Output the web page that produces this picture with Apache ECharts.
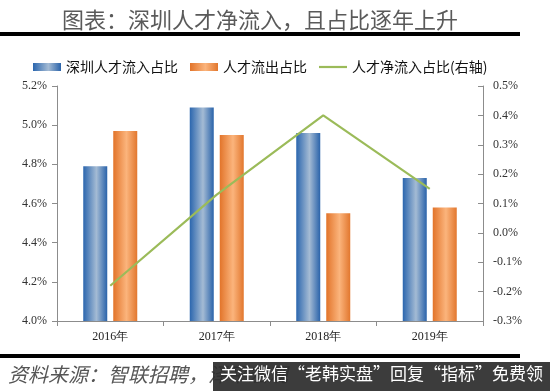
<!DOCTYPE html>
<html><head><meta charset="utf-8">
<script src="https://cdn.jsdelivr.net/npm/echarts@6/dist/echarts.min.js"></script>
<style>html,body{margin:0;padding:0;background:#fff}#c{width:550px;height:391px}</style>
</head><body><div id="c"></div>
<script>
const categories = ['2016年','2017年','2018年','2019年'];
const inflowShare = [4.79, 5.09, 4.96, 4.73];
const outflowShare = [4.97, 4.95, 4.55, 4.58];
const netInflowShare = [-0.18, 0.13, 0.40, 0.15];
const seriesNames = ['深圳人才流入占比','人才流出占比','人才净流入占比(右轴)'];
const titleText = '图表：深圳人才净流入，且占比逐年上升';
const sourceText = '资料来源：智联招聘，泽平宏观';
const overlayText = '关注微信“老韩实盘”回复“指标”免费领';

const blueGrad = new echarts.graphic.LinearGradient(0,0,1,0,[
  {offset:0,color:'#2b66ae'},{offset:0.55,color:'#a4bbd4'},{offset:1,color:'#2a63aa'}]);
const orangeGrad = new echarts.graphic.LinearGradient(0,0,1,0,[
  {offset:0,color:'#e2742a'},{offset:0.55,color:'#fbb47c'},{offset:1,color:'#e2772e'}]);

const chart = echarts.init(document.getElementById('c'), null, {renderer:'canvas'});
const serif = '"Liberation Serif","Times New Roman",serif';
const cjk = '"Noto Sans CJK SC","Noto Sans",sans-serif';
chart.setOption({
  animation:false,
  backgroundColor:'#fff',
  title:{text:titleText,left:57,top:4,
    textStyle:{fontFamily:cjk,fontSize:22,fontWeight:'normal',color:'#5a5a5a'}},
  legend:{left:28,top:55,itemWidth:28,itemHeight:8,itemGap:12,
    textStyle:{fontFamily:cjk,fontSize:14,color:'#111'},
    data:[{name:seriesNames[0],icon:'rect'},{name:seriesNames[1],icon:'rect'},
          {name:seriesNames[2],icon:'path://M0,0 L28,0 L28,2.2 L0,2.2 Z'}]},
  grid:{left:57,right:67,top:86,bottom:70},
  xAxis:{type:'category',data:categories,
    axisLine:{onZero:false,lineStyle:{color:'#8c8c8c'}},
    axisTick:{show:true,alignWithLabel:false,length:5,lineStyle:{color:'#8c8c8c'}},
    axisLabel:{fontFamily:serif,fontSize:12,color:'#222',margin:10}},
  yAxis:[
    {type:'value',min:4.0,max:5.2,interval:0.2,
     axisLine:{show:true,lineStyle:{color:'#8c8c8c'}},
     axisTick:{show:true,length:5,lineStyle:{color:'#8c8c8c'}},
     splitLine:{show:false},
     axisLabel:{fontFamily:serif,fontSize:12,color:'#333',margin:10,formatter:v=>v.toFixed(1)+'%'}},
    {type:'value',min:-0.3,max:0.5,interval:0.1,position:'right',
     axisLine:{show:true,lineStyle:{color:'#8c8c8c'}},
     axisTick:{show:true,inside:true,length:5,lineStyle:{color:'#8c8c8c'}},
     splitLine:{show:false},
     axisLabel:{fontFamily:serif,fontSize:12,color:'#333',margin:10,formatter:v=>(Math.round(v*10)/10).toFixed(1)+'%'}}
  ],
  series:[
    {name:seriesNames[0],type:'bar',data:inflowShare,barWidth:24,barGap:'25%',
     itemStyle:{color:blueGrad}},
    {name:seriesNames[1],type:'bar',data:outflowShare,barWidth:24,
     itemStyle:{color:orangeGrad}},
    {name:seriesNames[2],type:'line',yAxisIndex:1,data:netInflowShare,symbol:'none',
     lineStyle:{color:'#9bbb59',width:2.2},itemStyle:{color:'#9bbb59'}}
  ],
  graphic:[
    {type:'rect',shape:{x:0,y:32,width:520,height:4},style:{fill:'#000'}},
    {type:'rect',shape:{x:0,y:354,width:520,height:4},style:{fill:'#000'}},
    {type:'text',left:8,top:364,style:{text:sourceText,fontFamily:cjk,fontSize:20,fontStyle:'italic',fill:'#555'}},
    {type:'rect',shape:{x:213,y:362,width:337,height:29},style:{fill:'rgba(45,45,45,0.93)'}},
    {type:'text',left:220,top:365,style:{text:overlayText,fontFamily:cjk,fontSize:17,fill:'#fff'}}
  ]
});
</script></body></html>
